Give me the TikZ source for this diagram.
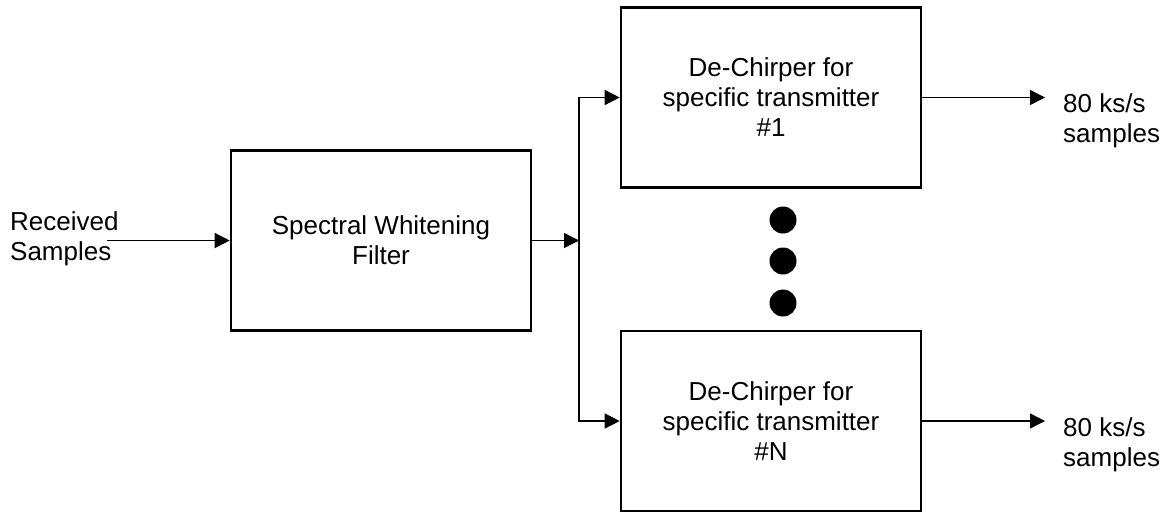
\documentclass[tikz,border=0pt]{standalone}
\usepackage{fontspec}
\setmainfont{Liberation Sans}
\usetikzlibrary{arrows.meta}
\begin{document}
\begin{tikzpicture}[x=1pt,y=-1pt,
  blk/.style={draw, line width=2.6pt, minimum width=300pt, minimum height=180pt, inner sep=0pt, align=center, font=\fontsize{26}{30}\selectfont},
  lbl/.style={align=left, inner sep=0pt, anchor=west, font=\fontsize{26}{30}\selectfont},
  arr/.style={line width=1.4pt, -{Triangle[length=15pt,width=15pt]}},
  dotnode/.style={circle, fill, inner sep=0pt, minimum size=27pt}]
\useasboundingbox (0,0) rectangle (1169,512);
\node[blk] (filt) at (381,240.5) {Spectral Whitening\\Filter};
\node[blk] (top) at (771,97.5) {De-Chirper for\\specific transmitter\\\#1};
\node[blk] (bot) at (771,421) {De-Chirper for\\specific transmitter\\\#N};
\node[lbl] (rx) at (10,239) {Received\\Samples};
\node[lbl] (out1) at (1063,121) {80 ks/s\\samples};
\node[lbl] (outN) at (1063,445) {80 ks/s\\samples};
\node[dotnode] (d1) at (783,220) {};
\node[dotnode] (d2) at (783,261) {};
\node[dotnode] (d3) at (783,303) {};
\coordinate (rxend) at (107,240.5);
\coordinate (split) at (579,240.5);
\coordinate (o1) at (1045,97.5);
\coordinate (oN) at (1045,421);
\draw[arr] (rxend) -- (filt.west);
\draw[arr] (filt.east) -- (split);
\draw[arr] (split) |- (top.west);
\draw[arr] (split) |- (bot.west);
\draw[arr] (top.east) -- (o1);
\draw[arr] (bot.east) -- (oN);
\end{tikzpicture}
\end{document}
